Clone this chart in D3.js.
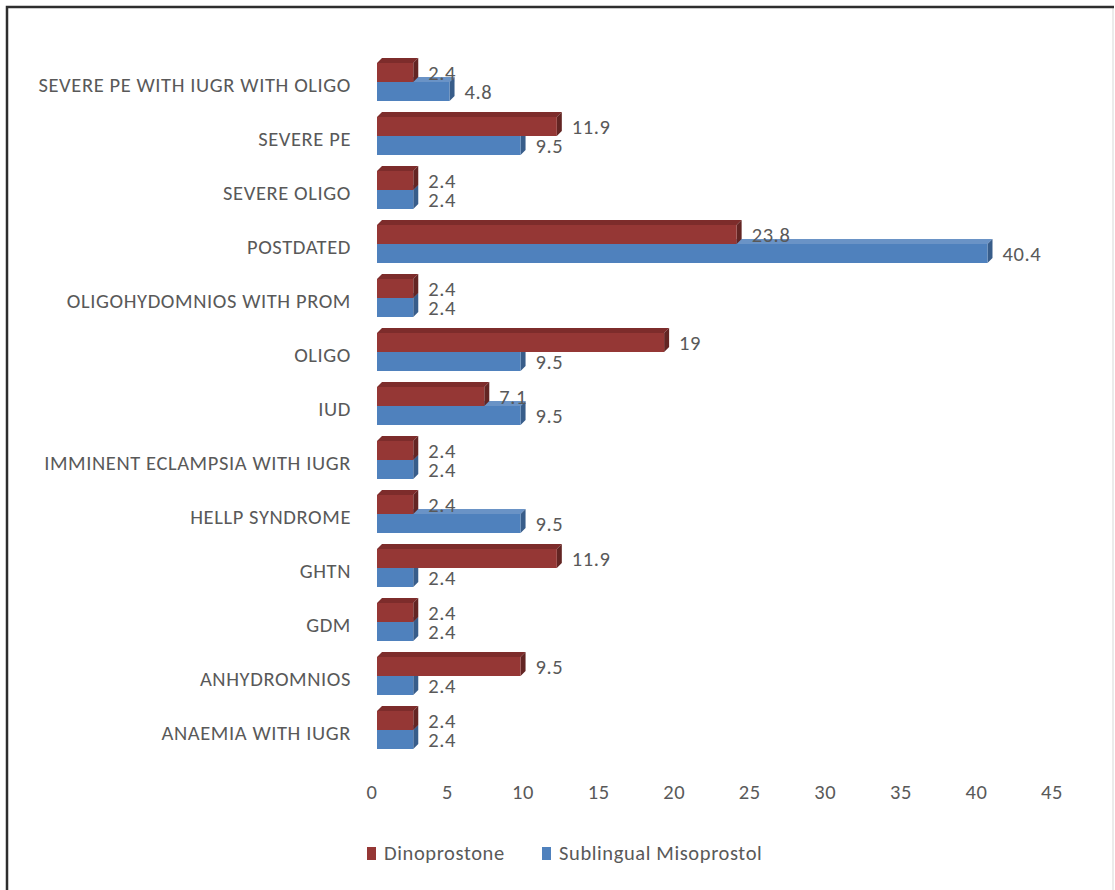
<!DOCTYPE html>
<html>
<head>
<meta charset="utf-8">
<script src="https://cdn.jsdelivr.net/npm/d3@7"></script>
<style>
  html, body { margin: 0; padding: 0; background: #fff; }
  svg text { font-family: Carlito, Calibri, Lato, "Liberation Sans", sans-serif; fill: #595959; letter-spacing: 0.6px; }
</style>
</head>
<body>
<svg id="chart" width="1115" height="890"></svg>
<script>
// categories top to bottom, as drawn
var categories = [
  'SEVERE PE WITH IUGR WITH OLIGO', 'SEVERE PE', 'SEVERE OLIGO', 'POSTDATED',
  'OLIGOHYDOMNIOS WITH PROM', 'OLIGO', 'IUD', 'IMMINENT ECLAMPSIA WITH IUGR',
  'HELLP SYNDROME', 'GHTN', 'GDM', 'ANHYDROMNIOS', 'ANAEMIA WITH IUGR'
];
var dinoprostone = [2.4, 11.9, 2.4, 23.8, 2.4, 19, 7.1, 2.4, 2.4, 11.9, 2.4, 9.5, 2.4];
var misoprostol  = [4.8, 9.5, 2.4, 40.4, 2.4, 9.5, 9.5, 2.4, 9.5, 2.4, 2.4, 2.4, 2.4];
var xTicks = [0, 5, 10, 15, 20, 25, 30, 35, 40, 45];
var seriesNames = ['Dinoprostone', 'Sublingual Misoprostol'];

var colors = {
  red:  { front: '#953735', top: '#7d2c2b', side: '#632523' },
  blue: { front: '#4f81bd', top: '#6a93c6', side: '#385d8a' }
};
var fs = 20.5;

var svg = d3.select('#chart');

// chart frame
svg.append('line').attr('x1', 1113).attr('y1', 7).attr('x2', 1113).attr('y2', 890)
  .attr('stroke', '#e4e4e4').attr('stroke-width', 1.5);
svg.append('path').attr('d', 'M7,890 L7,7 L1114,7')
  .attr('fill', 'none').attr('stroke', '#2e2e2e').attr('stroke-width', 2.5);

var x = d3.scaleLinear().domain([0, 45]).range([377, 1057]);
// boundary between red and blue bar in each category
var y = d3.scalePoint().domain(categories).range([82, 730]);
var barH = 19, depth = 5;

function bar3d(g, v, yTop, c) {
  var x0 = x(0), x1 = x(v), y0 = yTop, y1 = yTop + barH;
  g.append('path') // top face
    .attr('d', 'M' + x0 + ',' + y0 + 'L' + (x0 + depth) + ',' + (y0 - depth) +
      'L' + (x1 + depth) + ',' + (y0 - depth) + 'L' + x1 + ',' + y0 + 'Z')
    .attr('fill', c.top);
  g.append('path') // side face
    .attr('d', 'M' + x1 + ',' + y0 + 'L' + (x1 + depth) + ',' + (y0 - depth) +
      'L' + (x1 + depth) + ',' + (y1 - depth) + 'L' + x1 + ',' + y1 + 'Z')
    .attr('fill', c.side);
  g.append('rect').attr('x', x0).attr('y', y0).attr('width', x1 - x0).attr('height', barH)
    .attr('fill', c.front);
}

var gBars = svg.append('g');
var gLabels = svg.append('g');

categories.forEach(function (cat, i) {
  var b = y(cat);
  var g = gBars.append('g');
  bar3d(g, misoprostol[i], b, colors.blue);
  bar3d(g, dinoprostone[i], b - barH, colors.red);

  gLabels.append('text').attr('x', x(dinoprostone[i]) + 15).attr('y', b - barH / 2)
    .attr('dy', '0.35em').attr('font-size', fs).text(dinoprostone[i]);
  gLabels.append('text').attr('x', x(misoprostol[i]) + 15).attr('y', b + barH / 2)
    .attr('dy', '0.35em').attr('font-size', fs).text(misoprostol[i]);
});

// category axis labels
svg.append('g').selectAll('text').data(categories).join('text')
  .attr('x', 351).attr('y', function (d) { return y(d) + 3; })
  .attr('dy', '0.35em').attr('text-anchor', 'end').attr('font-size', fs)
  .text(function (d) { return d; });

// value axis tick labels (no line, no grid)
svg.append('g').selectAll('text').data(xTicks).join('text')
  .attr('x', function (d) { return x(d) - 5; }).attr('y', 792)
  .attr('dy', '0.35em').attr('text-anchor', 'middle').attr('font-size', fs)
  .text(function (d) { return d; });

// legend
var legend = svg.append('g');
var legX = [367, 542];
seriesNames.forEach(function (name, i) {
  legend.append('rect').attr('x', legX[i]).attr('y', 847).attr('width', 9).attr('height', 13)
    .attr('fill', i === 0 ? colors.red.front : colors.blue.front);
  legend.append('text').attr('x', legX[i] + 17).attr('y', 853).attr('dy', '0.35em')
    .attr('font-size', fs).text(name);
});
</script>
</body>
</html>
